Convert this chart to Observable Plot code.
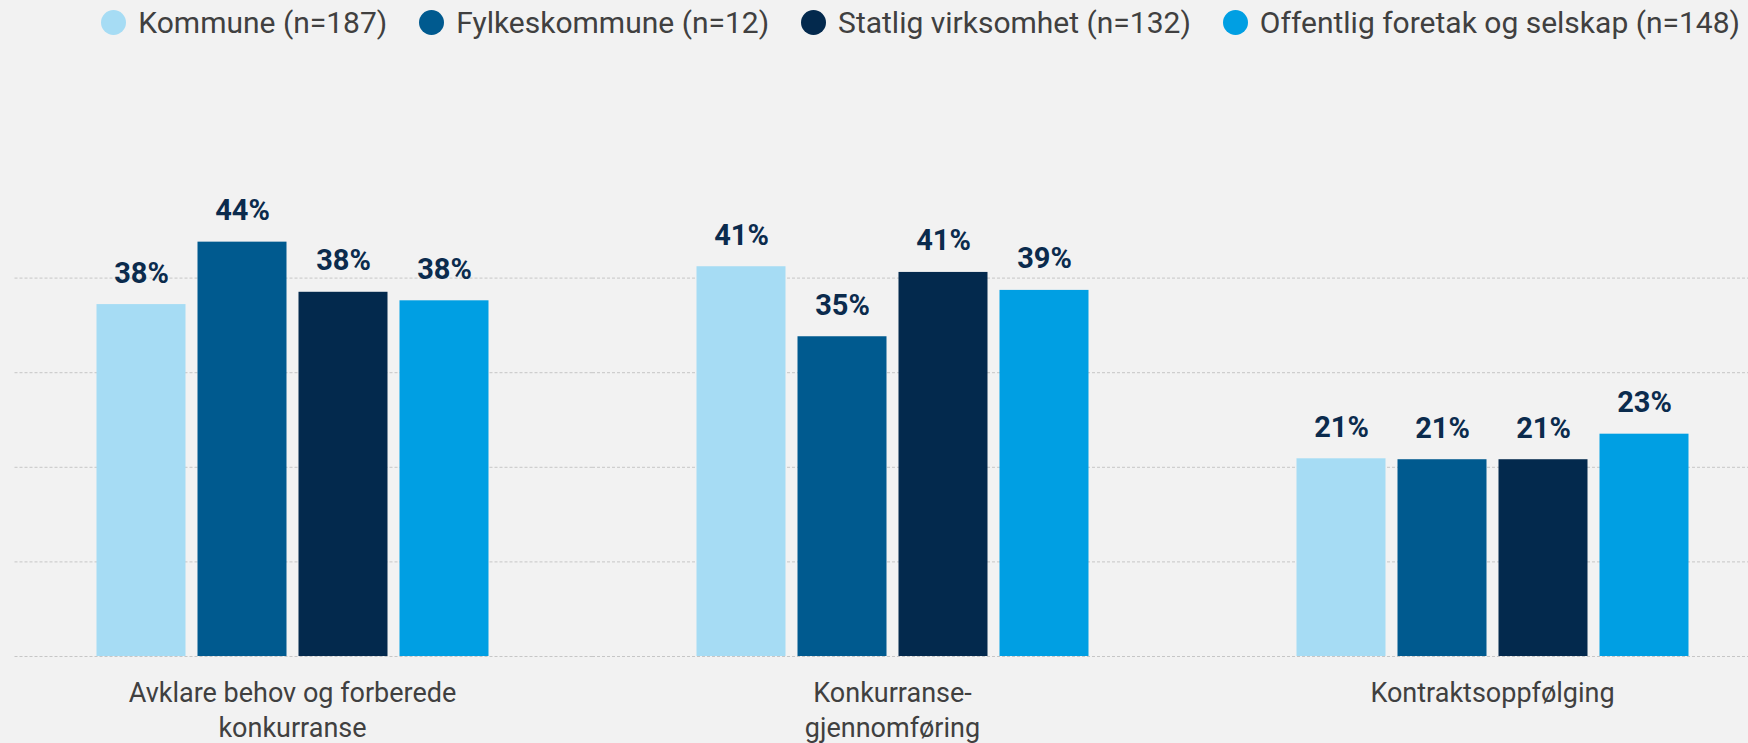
<!DOCTYPE html>
<html>
<head>
<meta charset="utf-8">
<script src="https://cdn.jsdelivr.net/npm/d3@7"></script>
<script src="https://cdn.jsdelivr.net/npm/@observablehq/plot@0.6"></script>
<style>
  html, body { margin: 0; padding: 0; background: #f2f2f2; overflow: hidden; }
  #wrap { width: 1748px; height: 743px; background: #f2f2f2; font-family: Roboto, "Noto Sans", sans-serif; }
  #legend { height: 44px; display: flex; justify-content: flex-end; align-items: center; padding-right: 8px; box-sizing: border-box; }
  .item { display: flex; align-items: center; margin-left: 32px; font-size: 30px; color: #404040; white-space: nowrap; }
  .dot { width: 25px; height: 25px; border-radius: 50%; margin-right: 12px; flex: none; }
  svg { display: block; }
</style>
</head>
<body>
<div id="wrap">
  <div id="legend"></div>
  <div id="chart"></div>
</div>
<script>
const groups = ["Avklare behov og forberede konkurranse", "Konkurranse-gjennomføring", "Kontraktsoppfølging"];
const groupLabels = ["Avklare behov og forberede\nkonkurranse", "Konkurranse-\ngjennomføring", "Kontraktsoppfølging"];
const series = ["Kommune (n=187)", "Fylkeskommune (n=12)", "Statlig virksomhet (n=132)", "Offentlig foretak og selskap (n=148)"];
// bar heights (percent)
const kommune = [37.2, 41.2, 20.9];
const fylkeskommune = [43.8, 33.8, 20.8];
const statlig = [38.5, 40.6, 20.8];
const offentlig = [37.6, 38.7, 23.5];
// value labels as printed on the chart
const kommuneLabels = ["38%", "41%", "21%"];
const fylkeskommuneLabels = ["44%", "35%", "21%"];
const statligLabels = ["38%", "41%", "21%"];
const offentligLabels = ["38%", "39%", "23%"];
const gridTicks = [0, 10, 20, 30, 40];
const colors = ["#a6dcf4", "#005a8f", "#03294d", "#009fe3"];

const seriesValues = [kommune, fylkeskommune, statlig, offentlig];
const seriesLabels = [kommuneLabels, fylkeskommuneLabels, statligLabels, offentligLabels];
const data = [];
groups.forEach((g, gi) => {
  series.forEach((s, si) => {
    data.push({group: g, series: s, value: seriesValues[si][gi], label: seriesLabels[si][gi]});
  });
});
const gridData = groups.flatMap(g => gridTicks.map(t => ({group: g, tick: t})));

// Legend (HTML, above the SVG)
const legend = document.getElementById("legend");
series.forEach((s, i) => {
  const item = document.createElement("div");
  item.className = "item";
  const dot = document.createElement("span");
  dot.className = "dot";
  dot.style.background = colors[i];
  const label = document.createElement("span");
  label.textContent = s;
  item.appendChild(dot);
  item.appendChild(label);
  legend.appendChild(item);
});

const labelOf = new Map(groups.map((g, i) => [g, groupLabels[i]]));
const gridStyle = {fx: "group", y: "tick", stroke: "#c6c6c6", strokeWidth: 1, strokeDasharray: "3,2"};

const chart = Plot.plot({
  width: 1748,
  height: 699,
  marginTop: 139,
  marginBottom: 87,
  marginLeft: 14.5,
  marginRight: 0,
  style: {background: "#f2f2f2", fontFamily: "Roboto, 'Noto Sans', sans-serif"},
  fx: {domain: groups, range: [-8, 1792], padding: 0, label: null},
  x: {domain: series, paddingInner: 0.123, paddingOuter: 1.017, axis: null},
  y: {domain: [0, 50], axis: null},
  color: {domain: series, range: colors},
  marks: [
    Plot.ruleY(gridData.filter(d => d.group === groups[0]), {...gridStyle, insetLeft: 22.5}),
    Plot.ruleY(gridData.filter(d => d.group !== groups[0]), gridStyle),
    Plot.barY(data, {fx: "group", x: "series", y: "value", fill: "series"}),
    Plot.text(data, {
      fx: "group", x: "series", y: "value",
      text: "label",
      dy: -22, lineAnchor: "bottom",
      fontSize: 29, fontWeight: 700, fill: "#0b2b4d"
    }),
    Plot.axisFx({
      anchor: "bottom", tickSize: 0, tickPadding: 20, label: null,
      tickFormat: d => labelOf.get(d),
      fontSize: 27, lineHeight: 1.32, fill: "#404040"
    })
  ]
});
document.getElementById("chart").appendChild(chart);
</script>
</body>
</html>
